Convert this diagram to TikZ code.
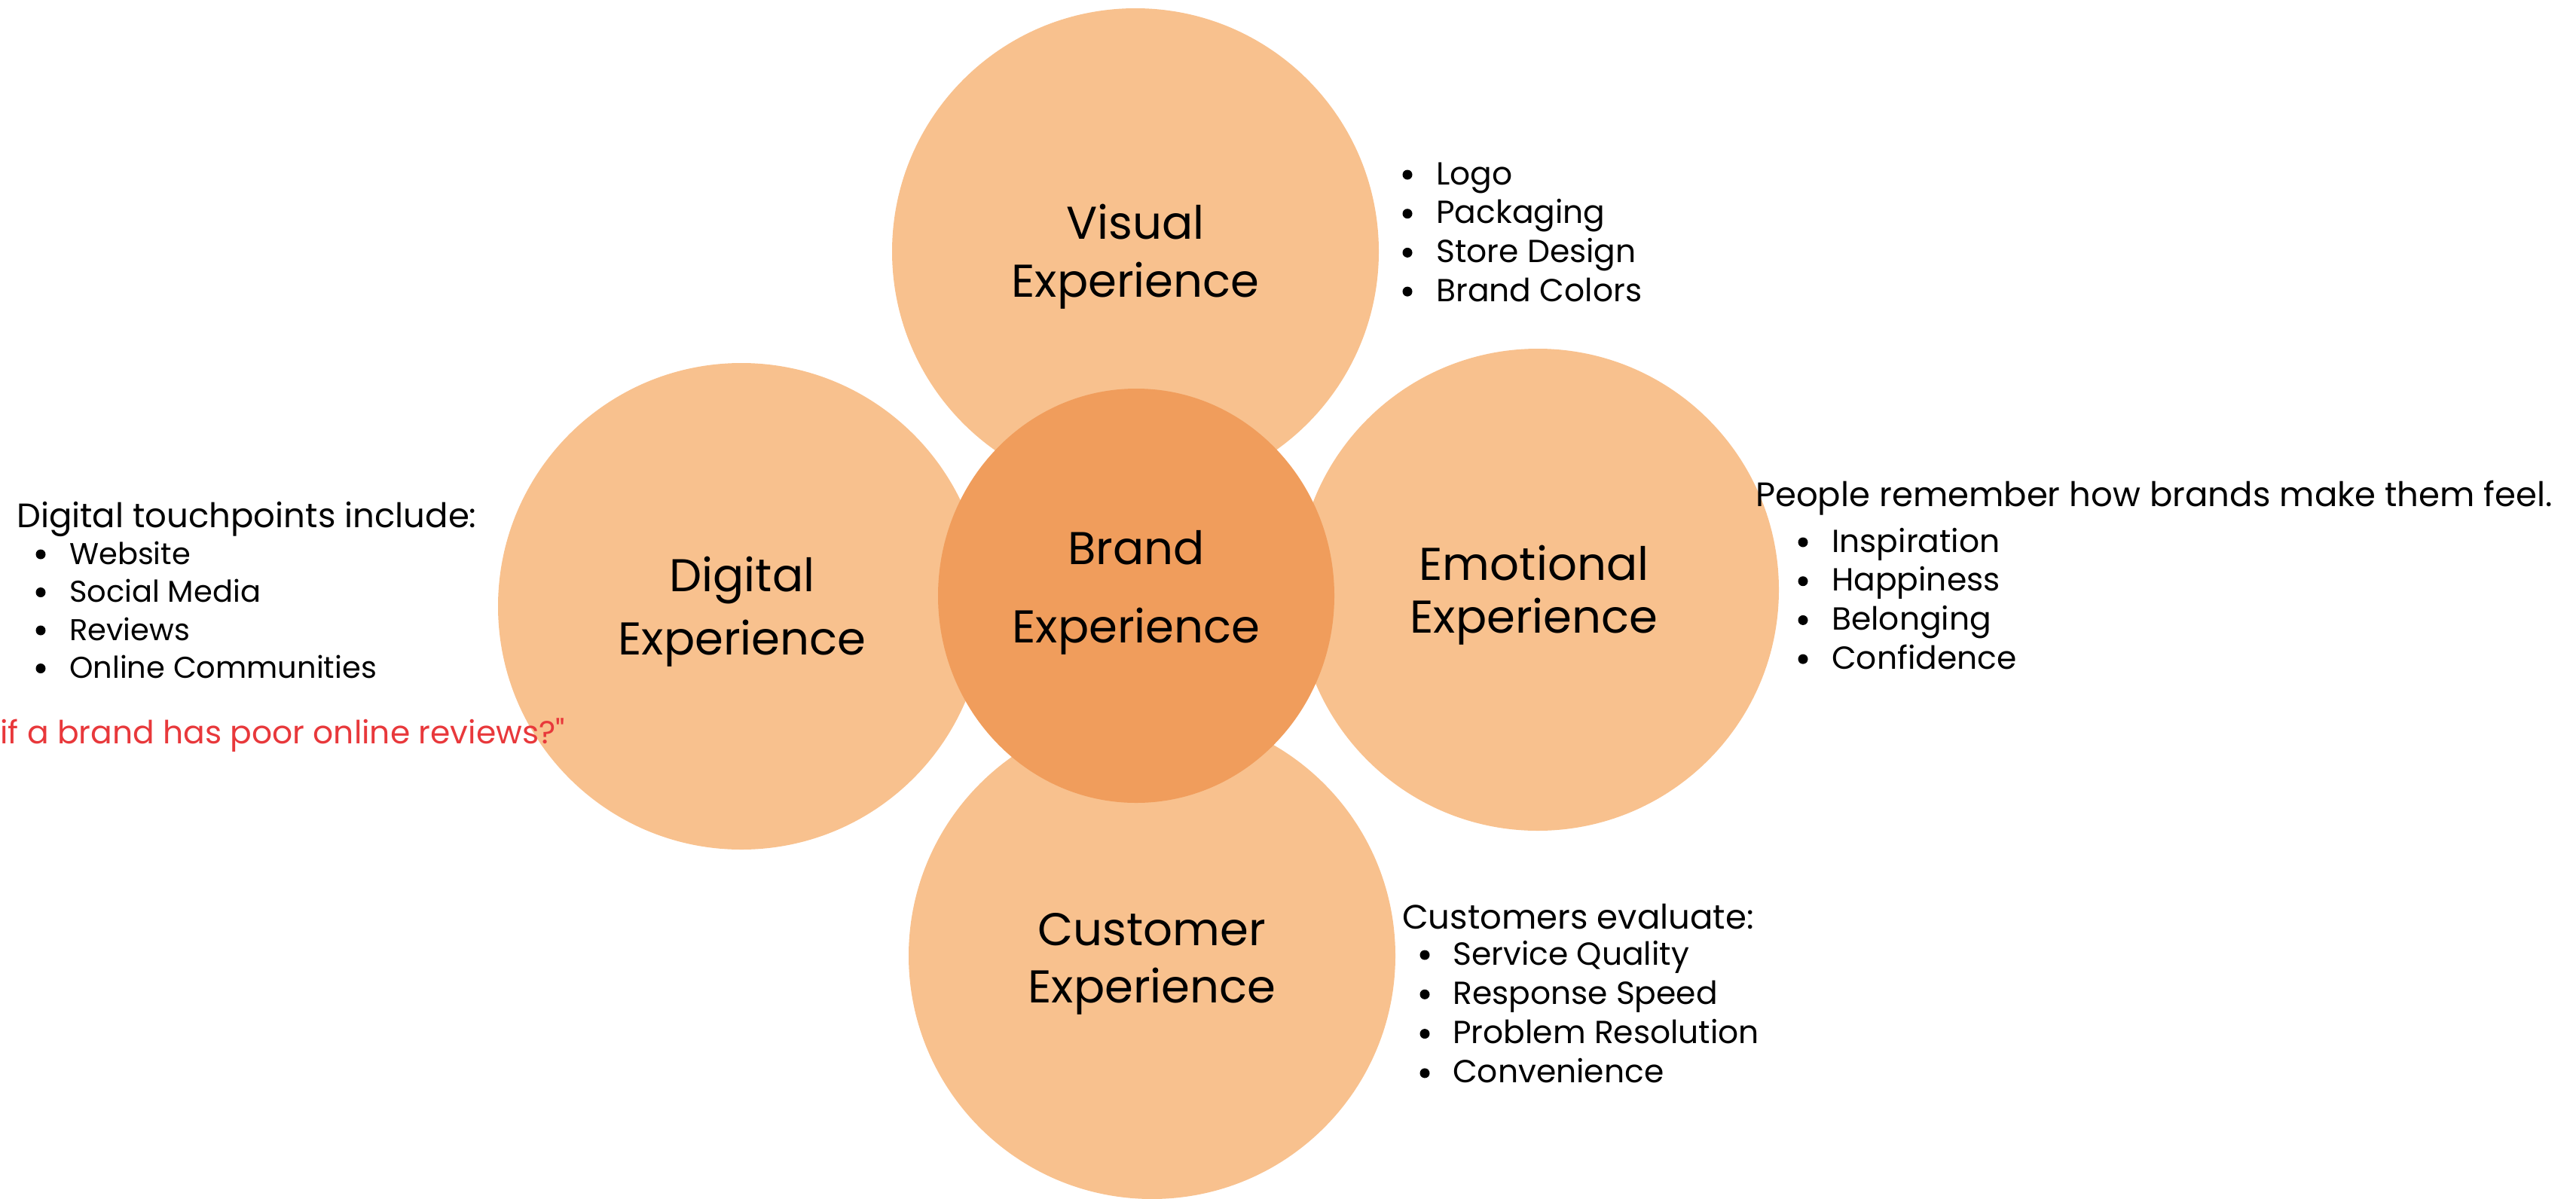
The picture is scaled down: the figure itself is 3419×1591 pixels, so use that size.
\documentclass[tikz,border=0pt]{standalone}
\usepackage{fontspec}
\setmainfont{Poppins}
% same face without the TeX quote mapping, for a straight double quote
\newfontfamily\plainpoppins{Poppins}[Ligatures=ResetAll]
\usetikzlibrary{shapes.geometric}
\definecolor{petalfill}{HTML}{F8C18E}
\definecolor{corefill}{HTML}{F09D5C}
\definecolor{alertred}{HTML}{E8383B}

% one bulleted list: name prefix, dot x, text x, first baseline, line step, items, item style
\newcommand\bulletlist[7]{%
  \foreach \t [count=\i] in {#6} {
    \node[#7] (#1-\i) at (#3, {#4+#5*(\i-1)}) {\t};
    \node[dot] (#1-dot-\i) at (#2, {#4+#5*(\i-1)-13}) {};
  }}

\begin{document}
\begin{tikzpicture}[x=1pt, y=-1pt,
  petal/.style={circle, fill=petalfill, minimum size=646pt, inner sep=0pt},
  core/.style={ellipse, fill=corefill, minimum width=526pt, minimum height=550pt, inner sep=0pt},
  title/.style={font=\fontsize{61}{61}\selectfont, anchor=base, inner sep=0pt},
  item/.style={font=\fontsize{42.4}{42.4}\selectfont, anchor=base west, inner sep=0pt},
  smallitem/.style={item, font=\fontsize{40}{40}\selectfont},
  lead/.style={item, font=\fontsize{45}{45}\selectfont},
  dot/.style={circle, fill=black, minimum size=13pt, inner sep=0pt}]
\useasboundingbox (0,0) rectangle (3419,1591);

% petals and core
\node[petal] (visual)    at (1507,334)  {};
\node[petal] (digital)   at (984,805)   {};
\node[petal, minimum size=640pt] (emotional) at (2041,783) {};
\node[petal] (customer)  at (1529,1269) {};
\node[core]  (brand)     at (1508,791)  {};

% circle titles
\node[title] (visual-a)    at (1507,317)  {Visual};
\node[title] (visual-b)    at (1507,394)  {Experience};
\node[title] (brand-a)     at (1508,749)  {Brand};
\node[title] (brand-b)     at (1508,853)  {Experience};
\node[title] (digital-a)   at (985,785)   {Digital};
\node[title] (digital-b)   at (985,869)   {Experience};
\node[title] (emotional-a) at (2036,770)  {Emotional};
\node[title] (emotional-b) at (2036,840)  {Experience};
\node[title] (customer-a)  at (1529,1255) {Customer};
\node[title] (customer-b)  at (1529,1331) {Experience};

% visual details
\bulletlist{vis}{1868}{1906}{245}{51.7}{Logo, Packaging, Store Design, Brand Colors}{item}

% digital details
\node[lead] (dig-head) at (22,700) {Digital touchpoints include:};
\bulletlist{dig}{54}{92}{749}{50.5}{Website, Social Media, Reviews, Online Communities}{smallitem}
\node[item, anchor=base east, text=alertred, font=\fontsize{42.4}{42.4}\plainpoppins] (dig-question) at (750,987) {if a brand has poor online reviews?"};

% emotional details
\node[lead] (emo-head) at (2330,672) {People remember how brands make them feel.};
\bulletlist{emo}{2393}{2431}{733}{51.7}{Inspiration, Happiness, Belonging, Confidence}{item}

% customer details
\node[lead] (cus-head) at (1861,1233) {Customers evaluate:};
\bulletlist{cus}{1891}{1928}{1281}{52.3}{Service Quality, Response Speed, Problem Resolution, Convenience}{item}
\end{tikzpicture}
\end{document}
